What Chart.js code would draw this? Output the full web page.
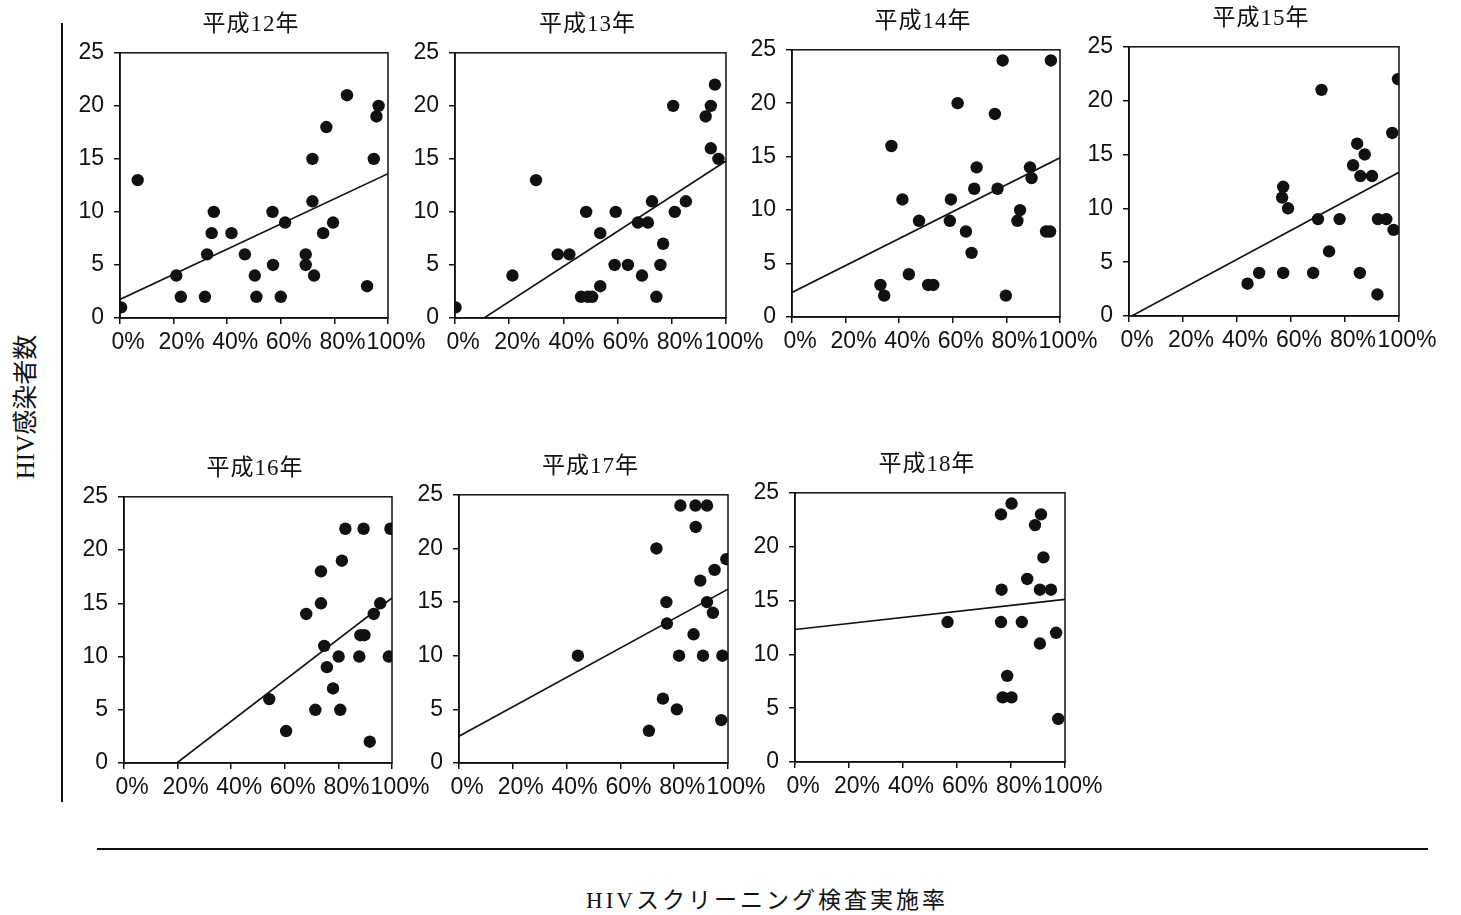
<!DOCTYPE html>
<html lang="ja">
<head>
<meta charset="utf-8">
<title>HIVスクリーニング検査実施率とHIV感染者数</title>
<script src="https://cdn.jsdelivr.net/npm/chart.js@4.4.1/dist/chart.umd.min.js"></script>
<style>
    html, body { margin: 0; padding: 0; background: #fff; }
    body { position: relative; width: 1461px; height: 915px; overflow: hidden; }
    canvas { position: absolute; }
    .title { position: absolute; font: 23px/1 "Liberation Serif", "Noto Sans CJK JP", serif; color: #111; transform: translate(-50%, -50%); white-space: nowrap; letter-spacing: 1px; }
    .vline { position: absolute; left: 61px; top: 23px; width: 2px; height: 779px; background: #111; }
    .hline { position: absolute; left: 97px; top: 848px; width: 1331px; height: 2px; background: #111; }
    .ylabel { position: absolute; left: 25px; top: 407px; transform: translate(-50%, -50%) rotate(-90deg); font: 25px/1 "Liberation Serif", "Noto Sans CJK JP", serif; white-space: nowrap; color: #111; }
    .xlabel { position: absolute; left: 767px; top: 900px; transform: translate(-50%, -50%); font: 23px/1 "Liberation Serif", "Noto Sans CJK JP", serif; white-space: nowrap; letter-spacing: 3px; color: #111; }
</style>
</head>
<body>
<div class="vline"></div>
<div class="hline"></div>
<div class="ylabel">HIV感染者数</div>
<div class="xlabel">HIVスクリーニング検査実施率</div>

<script>
// x = スクリーニング検査実施率 (%), y = HIV感染者数
const h12x = [0.4, 6.6, 21, 22.7, 31.7, 32.5, 34.2, 35, 41.6, 46.6, 50.3, 50.9, 56.9, 57.1, 60, 61.6, 69.3, 69.3, 71.8, 71.8, 72.4, 75.8, 77, 79.5, 84.7, 92.2, 94.7, 95.7, 96.5];
const h12y = [1, 13, 4, 2, 2, 6, 8, 10, 8, 6, 4, 2, 10, 5, 2, 9, 6, 5, 15, 11, 4, 8, 18, 9, 21, 3, 15, 19, 20];
const h12trend = [[0, 1.75], [100, 13.6]];

const h13x = [0.2, 21.2, 29.9, 37.9, 42.2, 46.5, 48.4, 49, 50.6, 53.6, 53.6, 58.9, 59.3, 63.8, 67.5, 69, 71.2, 72.7, 74.3, 75.8, 76.8, 80.5, 81.1, 85.2, 92.5, 94.4, 94.4, 95.9, 97.2];
const h13y = [1, 4, 13, 6, 6, 2, 10, 2, 2, 3, 8, 5, 10, 5, 9, 4, 9, 11, 2, 5, 7, 20, 10, 11, 19, 20, 16, 22, 15];
const h13trend = [[10.7, 0], [100, 14.8]];

const h14x = [33, 34.4, 37.1, 41.2, 43.6, 47.4, 50.8, 52.7, 58.9, 59.3, 61.8, 64.9, 67, 68, 68.9, 75.7, 76.7, 78.6, 79.8, 84.1, 85.1, 88.8, 89.4, 94.8, 96.3, 96.6];
const h14y = [3, 2, 16, 11, 4, 9, 3, 3, 9, 11, 20, 8, 6, 12, 14, 19, 12, 24, 2, 9, 10, 14, 13, 8, 8, 24];
const h14trend = [[0, 2.3], [100, 14.9]];

const h15x = [43.9, 48.2, 57.1, 56.7, 57.1, 58.9, 68.2, 70, 71.3, 74.1, 78, 83, 84.5, 85.5, 85.7, 87.3, 90, 92, 92.2, 95.3, 97.5, 98, 99.6];
const h15y = [3, 4, 12, 11, 4, 10, 4, 9, 21, 6, 9, 14, 16, 4, 13, 15, 13, 2, 9, 9, 17, 8, 22];
const h15trend = [[1, 0], [100, 13.35]];

const h16x = [54.2, 60.5, 68, 71.4, 73.5, 73.5, 74.7, 75.7, 78, 80.1, 80.7, 81.3, 82.6, 87.8, 88.2, 89.7, 89.4, 91.7, 93.2, 95.6, 98.8, 99.4];
const h16y = [6, 3, 14, 5, 18, 15, 11, 9, 7, 10, 5, 19, 22, 10, 12, 12, 22, 2, 14, 15, 10, 22];
const h16trend = [[19.7, 0], [100, 15.5]];

const h17x = [44.2, 70.6, 73.4, 75.8, 77.1, 77.3, 81, 81.8, 82.3, 87.2, 87.9, 88, 89.7, 90.7, 92.2, 92.2, 94.4, 95, 97.5, 97.9, 99.4];
const h17y = [10, 3, 20, 6, 15, 13, 5, 10, 24, 12, 24, 22, 17, 10, 24, 15, 14, 18, 4, 10, 19];
const h17trend = [[0, 2.5], [100, 16.2]];

const h18x = [56.5, 76.3, 76.5, 76.3, 76.9, 78.6, 80.2, 80.2, 84, 86, 88.9, 90.7, 90.7, 91.1, 92, 94.8, 96.7, 97.5];
const h18y = [13, 23, 16, 13, 6, 8, 24, 6, 13, 17, 22, 11, 16, 23, 19, 16, 12, 4];
const h18trend = [[0, 12.3], [100, 15.1]];

const titles = ['平成12年', '平成13年', '平成14年', '平成15年', '平成16年', '平成17年', '平成18年'];
const xTicks = [0, 20, 40, 60, 80, 100];
const yTicks = [0, 5, 10, 15, 20, 25];

// plot area of each panel on the page: left, top, right, bottom
const boxes = [
    [120, 53, 388, 318],
    [455, 53, 726, 318],
    [792, 50, 1060, 317],
    [1129, 47, 1399, 316],
    [124, 497, 392, 763],
    [459, 495, 728, 763],
    [795, 493, 1065, 762]
];
const series = [
    [h12x, h12y, h12trend],
    [h13x, h13y, h13trend],
    [h14x, h14y, h14trend],
    [h15x, h15y, h15trend],
    [h16x, h16y, h16trend],
    [h17x, h17y, h17trend],
    [h18x, h18y, h18trend]
];

const Y_W = 60, X_H = 45, RIGHT = 48;
const INK = '#111';
const tickFont = { family: '"Liberation Sans", Arial, sans-serif', size: 23 };

// full frame around the plot area
const frame = {
    id: 'frame',
    afterDatasetsDraw(chart) {
        const { ctx, chartArea: a } = chart;
        ctx.save();
        ctx.strokeStyle = INK;
        ctx.lineWidth = 1.5;
        ctx.strokeRect(a.left, a.top, a.right - a.left, a.bottom - a.top);
        ctx.restore();
    }
};

function makeChart(canvas, w, h, xs, ys, trend) {
    canvas.width = w;
    canvas.height = h;
    canvas.style.width = w + 'px';
    canvas.style.height = h + 'px';
    return new Chart(canvas, {
        type: 'scatter',
        data: {
            datasets: [
                {
                    data: xs.map((x, k) => ({ x, y: ys[k] })),
                    backgroundColor: INK,
                    borderWidth: 0,
                    pointRadius: 6.2,
                    pointHoverRadius: 6.2
                },
                {
                    data: trend.map(([x, y]) => ({ x, y })),
                    showLine: true,
                    borderColor: INK,
                    borderWidth: 1.6,
                    pointRadius: 0,
                    fill: false
                }
            ]
        },
        options: {
            responsive: false,
            animation: false,
            events: [],
            layout: { padding: { top: 0, right: RIGHT, left: 0, bottom: 0 } },
            plugins: { legend: { display: false }, tooltip: { enabled: false }, title: { display: false } },
            scales: {
                x: {
                    type: 'linear',
                    min: 0, max: 100,
                    afterFit(s) { s.height = X_H; },
                    afterBuildTicks(s) { s.ticks = xTicks.map(v => ({ value: v })); },
                    grid: { drawOnChartArea: false, drawTicks: true, tickLength: 6, color: INK, lineWidth: 1.5 },
                    border: { display: true, color: INK, width: 1.5 },
                    ticks: { autoSkip: false, maxRotation: 0, padding: 5, labelOffset: 8, color: INK, font: tickFont, callback: v => v + '%' }
                },
                y: {
                    type: 'linear',
                    min: 0, max: 25,
                    afterFit(s) { s.width = Y_W; },
                    afterBuildTicks(s) { s.ticks = yTicks.map(v => ({ value: v })); },
                    grid: { drawOnChartArea: false, drawTicks: true, tickLength: 6, color: INK, lineWidth: 1.5 },
                    border: { display: true, color: INK, width: 1.5 },
                    ticks: { padding: 10, color: INK, font: tickFont }
                }
            }
        },
        plugins: [frame]
    });
}

series.forEach(([xs, ys, trend], i) => {
    const [l, t, r, b] = boxes[i];
    const canvas = document.createElement('canvas');
    document.body.appendChild(canvas);
    const w = Y_W + (r - l) + RIGHT;

    // first pass to see how much room Chart.js keeps above the plot
    let chart = makeChart(canvas, w, (b - t) + X_H + 20, xs, ys, trend);
    const topGap = Math.round(chart.chartArea.top);
    chart.destroy();

    const h = topGap + (b - t) + X_H;
    chart = makeChart(canvas, w, h, xs, ys, trend);
    canvas.style.left = (l - chart.chartArea.left) + 'px';
    canvas.style.top = (t - chart.chartArea.top) + 'px';

    const title = document.createElement('div');
    title.className = 'title';
    title.textContent = titles[i];
    title.style.left = ((l + r) / 2 - 3) + 'px';
    title.style.top = (t - 30) + 'px';
    document.body.appendChild(title);
});
</script>
</body>
</html>
